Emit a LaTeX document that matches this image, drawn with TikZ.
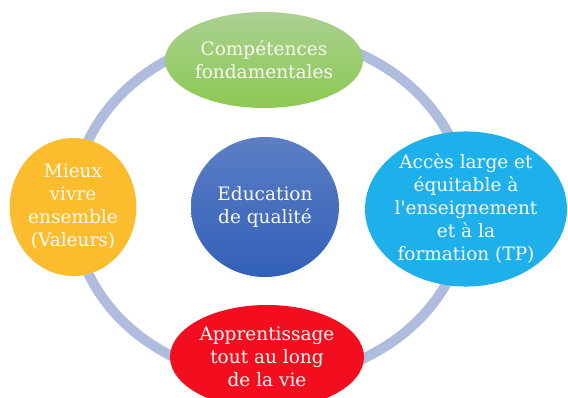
\documentclass[tikz,border=0pt]{standalone}
\usepackage{fontspec}
\newfontfamily\bubfont{DejaVu Serif}
\usetikzlibrary{shapes.geometric}
\definecolor{ringc}{RGB}{176,188,221}
\definecolor{greenT}{RGB}{170,208,145}
\definecolor{greenB}{RGB}{140,201,82}
\definecolor{cyanc}{RGB}{30,176,234}
\definecolor{redc}{RGB}{242,14,30}
\definecolor{orangec}{RGB}{251,188,45}
\definecolor{navyT}{RGB}{92,126,196}
\definecolor{navyB}{RGB}{50,96,184}
\definecolor{txt}{RGB}{250,250,244}
\begin{document}
\begin{tikzpicture}[x=1pt,y=-1pt,
  bubble/.style={ellipse, inner sep=0pt, align=center, text=txt,
    font=\bubfont\fontsize{18.5}{23}\selectfont},
  ring/.style={draw=ringc, line width=10pt}]
\useasboundingbox (0,0) rectangle (568,398);
\fill[white] (0,0) rectangle (568,398);
\clip (0,0) rectangle (568,398);
\coordinate (rc) at (270,207);
\draw[ring] (rc) ellipse [x radius=197, y radius=172];
\node[bubble, minimum width=198pt, minimum height=96pt,
  top color=greenT, bottom color=greenB] (comp) at (264,60)
  {Compétences\\fondamentales};
\node[bubble, minimum width=202pt, minimum height=148pt, fill=cyanc] (acces) at (466,209)
  {Accès large et\\équitable à\\l'enseignement\\et à la\\formation (TP)};
\node[bubble, minimum width=194pt, minimum height=104pt, fill=redc] (appr) at (267,357)
  {Apprentissage\\tout au long\\de la vie};
\node[bubble, minimum width=124pt, minimum height=138pt, fill=orangec] (mieux) at (73,207)
  {Mieux\\vivre\\ensemble\\(Valeurs)};
\node[bubble, minimum width=148pt, minimum height=140pt,
  top color=navyT, bottom color=navyB] (edu) at (265,207)
  {Education\\de qualité};
\end{tikzpicture}
\end{document}
